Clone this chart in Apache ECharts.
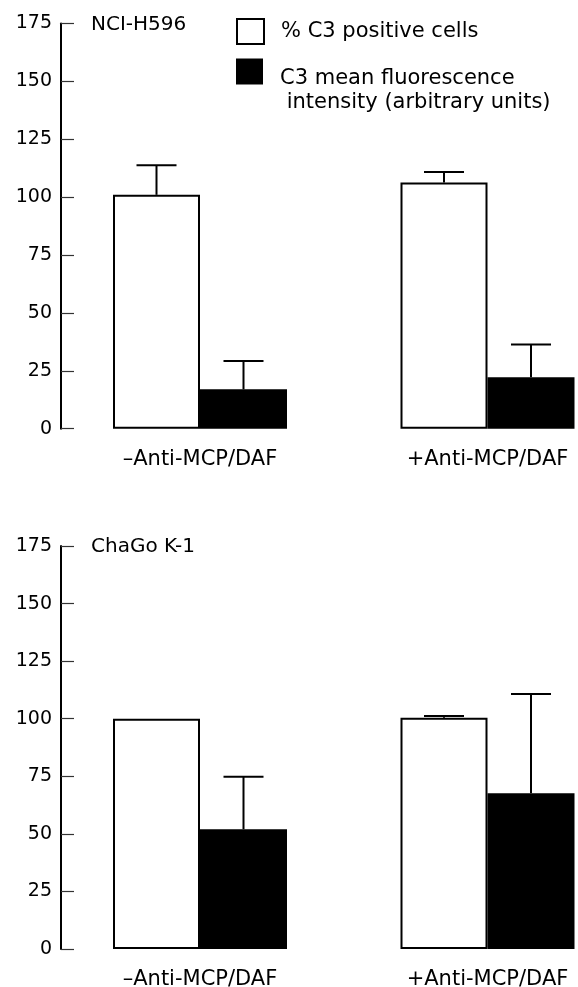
<!DOCTYPE html>
<html><head><meta charset="utf-8">
<script src="https://cdn.jsdelivr.net/npm/echarts@6/dist/echarts.min.js"></script>
<style>html,body{margin:0;padding:0;background:#fff}#c{width:578px;height:987px}</style>
</head><body><div id="c"></div>
<script>
const categories = ['–Anti-MCP/DAF', '+Anti-MCP/DAF'];
const panelTitles = ['NCI-H596', 'ChaGo K-1'];
const seriesNames = ['% C3 positive cells', 'C3 mean fluorescence\n intensity (arbitrary units)'];
const yMin = 0, yMax = 175, yStep = 25;
const h596Positive = [101, 106.3];
const h596PositiveErr = [12.8, 4.6];
const h596MFI = [17, 22.2];
const h596MFIErr = [12.2, 14.2];
const chagoPositive = [100, 100.4];
const chagoPositiveErr = [0, 0.8];
const chagoMFI = [52, 67.6];
const chagoMFIErr = [22.8, 43.1];

const FONT = 'DejaVu Sans';
const BARW = 87;
const panels = [
  {pos: h596Positive, posErr: h596PositiveErr, mfi: h596MFI, mfiErr: h596MFIErr},
  {pos: chagoPositive, posErr: chagoPositiveErr, mfi: chagoMFI, mfiErr: chagoMFIErr}
];

function errSeries(idx, vals, errs, offset) {
  return {
    type: 'custom', xAxisIndex: idx, yAxisIndex: idx, z: 5,
    data: vals.map((v, i) => [i, v, errs[i]]),
    renderItem: function (params, api) {
      const c = api.value(0), v = api.value(1), e = api.value(2);
      if (!e) return null;
      const b = api.coord([c, v]);
      const t = api.coord([c, v + e]);
      const x = b[0] + offset;
      const st = {stroke: '#000', lineWidth: 2};
      return {type: 'group', children: [
        {type: 'line', shape: {x1: x, y1: b[1], x2: x, y2: t[1]}, style: st},
        {type: 'line', shape: {x1: x - 20, y1: t[1], x2: x + 20, y2: t[1]}, style: st}
      ]};
    }
  };
}

const grids = [
  {left: 56.25, top: 23.5, width: 575, height: 405.2, outerBoundsMode: 'none', containLabel: false},
  {left: 56.25, top: 546, width: 575, height: 403, outerBoundsMode: 'none', containLabel: false}
];
const series = [];
panels.forEach((p, idx) => {
  series.push({type: 'bar', name: seriesNames[0], xAxisIndex: idx, yAxisIndex: idx, data: p.pos,
    barWidth: BARW, barGap: '0%',
    itemStyle: {color: '#fff', borderColor: '#000', borderWidth: 2}});
  series.push({type: 'bar', name: seriesNames[1], xAxisIndex: idx, yAxisIndex: idx, data: p.mfi,
    barWidth: BARW, barGap: '0%',
    itemStyle: {color: '#000'}});
  series.push(errSeries(idx, p.pos, p.posErr, -BARW / 2));
  series.push(errSeries(idx, p.mfi, p.mfiErr, BARW / 2));
});

const option = {
  animation: false,
  backgroundColor: '#fff',
  textStyle: {fontFamily: FONT},
  title: [
    {text: panelTitles[0], left: 91, top: 15, padding: 0, textStyle: {fontFamily: FONT, fontSize: 20, fontWeight: 'normal', color: '#000'}},
    {text: panelTitles[1], left: 91, top: 537, padding: 0, textStyle: {fontFamily: FONT, fontSize: 20, fontWeight: 'normal', color: '#000'}}
  ],
  legend: [
    {data: [{name: seriesNames[0], icon: 'rect', itemStyle: {color: '#fff', borderColor: '#000', borderWidth: 2}}],
     left: 236, top: 18, padding: 0, itemWidth: 27, itemHeight: 25, selectedMode: false,
     textStyle: {fontFamily: FONT, fontSize: 21, color: '#000', padding: [0, 0, 0, 12]}},
    {data: [{name: seriesNames[1], icon: 'rect', itemStyle: {color: '#000', borderWidth: 0}}],
     left: 236, top: 47, padding: 0, itemWidth: 27, itemHeight: 26, selectedMode: false,
     formatter: function (name) {
       return '{s| }\n' + name.split('\n').map(l => '{t|' + l + '}').join('\n');
     },
     textStyle: {fontFamily: FONT, fontSize: 21, color: '#000', padding: [0, 0, 0, 12],
       rich: {s: {fontSize: 1, lineHeight: 38}, t: {fontFamily: FONT, fontSize: 21, lineHeight: 24, color: '#000'}}}}
  ],
  grid: grids,
  xAxis: grids.map((g, i) => ({
    type: 'category', gridIndex: i, data: categories,
    axisLine: {show: false}, axisTick: {show: false},
    axisLabel: {margin: 20, fontSize: 21, color: '#000', fontFamily: FONT}
  })),
  yAxis: grids.map((g, i) => ({
    type: 'value', gridIndex: i, min: yMin, max: yMax, interval: yStep, offset: -4.75,
    axisLine: {show: true, lineStyle: {color: '#000', width: 2}},
    axisTick: {show: true, inside: true, length: 13, lineStyle: {color: '#333', width: 1.2}},
    axisLabel: {margin: 9, fontSize: 19, color: '#000', fontFamily: FONT},
    splitLine: {show: false}
  })),
  series: series
};
const chart = echarts.init(document.getElementById('c'), null, {renderer: 'canvas'});
chart.setOption(option);
</script></body></html>
